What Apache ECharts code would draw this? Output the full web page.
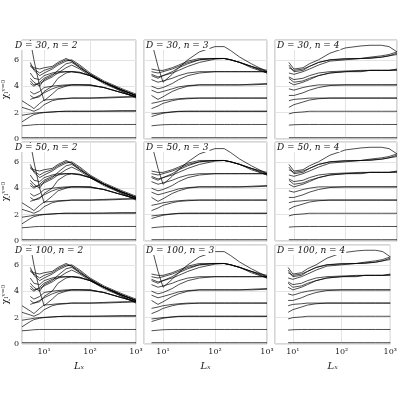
<!DOCTYPE html>
<html><head><meta charset="utf-8">
<script src="https://cdn.jsdelivr.net/npm/echarts@6/dist/echarts.min.js"></script>
<style>html,body{margin:0;background:#fff}#c{width:400px;height:400px}</style>
</head><body><div id="c"></div>
<script>
// panel labels
var dValues = [30, 50, 100]
var nValues = [2, 3, 4]
var xTicks = {10: '10¹', 100: '10²', 1000: '10³'}

// L_x sample positions per n
var xs2 = [3.3, 5, 6, 8, 10, 15, 20, 30, 40, 60, 100, 200, 500, 1000]
var xs3 = [6, 8, 10, 15, 20, 30, 50, 100, 150, 200, 300, 500, 1000]
var xs4 = [8, 10, 15, 20, 30, 50, 100, 200, 300, 500, 700, 1000]

// chi curves, n = 2
var curves2 = [
  [0.1,0.1,0.1,0.1,0.1,0.1,0.1,0.1,0.1,0.1,0.1,0.1,0.1,0.1],
  [1.0,1.05,1.08,1.1,1.1,1.1,1.1,1.1,1.1,1.1,1.1,1.1,1.1,1.1],
  [1.3,1.7,1.85,1.95,2.0,2.05,2.08,2.1,2.1,2.1,2.1,2.12,2.15,2.15],
  [1.8,1.9,1.95,2.0,2.02,2.05,2.08,2.1,2.1,2.1,2.1,2.1,2.1,2.1],
  [2.9,2.5,2.3,2.7,2.95,3.0,3.05,3.08,3.1,3.1,3.1,3.15,3.2,3.2],
  [2.4,2.2,2.1,2.3,2.6,2.9,3.0,3.05,3.1,3.1,3.1,3.1,3.15,3.2],
  [null,3.0,3.1,3.3,3.5,3.8,3.95,4.05,4.1,4.1,4.1,3.9,3.5,3.2],
  [null,3.6,3.4,3.6,3.9,4.0,4.05,4.1,4.1,4.1,4.05,3.9,3.5,3.2],
  [null,7.5,6.0,4.0,2.9,3.4,3.8,4.0,4.1,4.1,4.1,3.9,3.5,3.2],
  [null,3.3,3.1,3.2,3.6,4.0,4.6,5.0,5.1,5.05,4.8,4.3,3.7,3.3],
  [null,4.2,4.0,4.3,4.6,4.9,5.0,5.1,5.1,5.05,4.8,4.3,3.7,3.3],
  [null,5.0,4.6,4.5,4.8,5.0,5.1,5.1,5.1,5.0,4.8,4.3,3.7,3.3],
  [null,4.6,4.3,4.0,4.5,4.8,5.2,5.7,5.8,5.4,4.9,4.3,3.6,3.2],
  [null,5.8,5.2,4.8,5.0,5.3,5.6,5.9,6.0,5.6,5.0,4.4,3.8,3.4],
  [null,5.5,5.3,5.0,5.2,5.4,5.7,6.0,5.9,5.5,4.9,4.3,3.7,3.3],
  [null,5.6,5.4,5.3,5.4,5.5,5.8,6.1,5.9,5.4,4.9,4.3,3.7,3.3],
  [null,4.4,4.1,4.2,4.4,4.7,5.0,5.4,5.6,5.3,4.8,4.2,3.6,3.1]
]

// chi curves, n = 3
var curves3 = [
  [0.1,0.1,0.1,0.1,0.1,0.1,0.1,0.1,0.1,0.1,0.1,0.1,0.1],
  [1.0,1.05,1.08,1.1,1.1,1.1,1.1,1.1,1.1,1.1,1.1,1.1,1.1],
  [1.7,1.85,1.95,2.05,2.08,2.1,2.1,2.1,2.1,2.1,2.1,2.1,2.1],
  [1.9,1.95,2.0,2.05,2.1,2.1,2.1,2.1,2.1,2.1,2.1,2.1,2.1],
  [2.3,2.5,2.7,2.9,3.0,3.05,3.1,3.1,3.1,3.1,3.1,3.1,3.1],
  [2.7,2.8,2.9,3.0,3.05,3.1,3.1,3.1,3.1,3.1,3.1,3.1,3.1],
  [3.3,3.0,3.2,3.6,3.8,4.0,4.1,4.1,4.1,4.1,4.1,4.15,4.2],
  [3.7,3.5,3.6,3.8,3.95,4.05,4.1,4.1,4.1,4.1,4.1,4.1,4.15],
  [4.0,3.8,3.9,4.2,4.5,4.8,5.0,5.1,5.1,5.1,5.1,5.1,5.1],
  [4.5,4.3,4.4,4.6,4.8,5.0,5.1,5.1,5.1,5.1,5.1,5.1,5.1],
  [4.8,4.6,4.8,5.1,5.4,5.7,6.0,6.1,6.1,6.0,5.8,5.5,5.1],
  [5.1,5.0,5.1,5.3,5.5,5.8,6.0,6.1,6.1,6.0,5.8,5.5,5.2],
  [5.3,5.2,5.2,5.4,5.6,5.9,6.1,6.1,6.1,6.0,5.8,5.5,5.0],
  [4.9,4.7,4.8,5.0,5.2,5.5,5.8,6.05,6.1,6.0,5.8,5.4,5.0],
  [7.4,5.5,4.3,4.9,5.4,6.0,6.6,7.0,7.0,6.7,6.2,5.7,5.1]
]

// chi curves, n = 4
var curves4 = [
  [0.1,0.1,0.1,0.1,0.1,0.1,0.1,0.1,0.1,0.1,0.1,0.1],
  [1.05,1.08,1.1,1.1,1.1,1.1,1.1,1.1,1.1,1.1,1.1,1.1],
  [1.9,2.0,2.05,2.1,2.1,2.1,2.1,2.1,2.1,2.1,2.1,2.1],
  [2.4,2.6,2.8,2.95,3.05,3.1,3.1,3.1,3.1,3.1,3.1,3.1],
  [2.9,3.0,3.05,3.1,3.1,3.1,3.1,3.1,3.1,3.1,3.1,3.1],
  [3.3,3.3,3.5,3.7,3.9,4.05,4.1,4.1,4.1,4.1,4.1,4.1],
  [3.8,3.7,3.9,4.0,4.1,4.1,4.1,4.1,4.1,4.1,4.1,4.1],
  [4.3,4.1,4.3,4.5,4.8,5.0,5.1,5.15,5.2,5.2,5.2,5.25],
  [4.7,4.5,4.6,4.8,5.0,5.1,5.15,5.2,5.2,5.2,5.2,5.2],
  [4.6,4.3,4.4,4.6,4.8,5.0,5.1,5.1,5.2,5.2,5.2,5.3],
  [5.0,4.9,5.1,5.3,5.6,5.9,6.0,6.1,6.15,6.2,6.3,6.4],
  [5.4,5.2,5.3,5.5,5.8,6.0,6.1,6.1,6.2,6.3,6.4,6.6],
  [5.6,5.1,5.2,5.5,5.8,6.0,6.05,6.1,6.1,6.2,6.3,6.5],
  [5.8,5.3,5.4,5.7,6.0,6.5,6.9,7.05,7.1,7.1,7.0,6.6]
]

var xsByCol = [xs2, xs3, xs4]
var curvesByCol = [curves2, curves3, curves4]
var xMins = [3.3, 4.3, 4.3]

var lefts = [13, 144, 275]
var widths = [123, 123, 122]
var tops = [40, 142, 245]
var height = 99
var serif = 'DejaVu Serif'

var grids = [], xAxes = [], yAxes = [], series = [], graphics = []
for (var r = 0; r < 3; r++) {
  for (var c = 0; c < 3; c++) {
    var i = r * 3 + c
    grids.push({left: lefts[c], top: tops[r], width: widths[c], height: height, show: true, borderColor: '#999', borderWidth: 0.8})
    xAxes.push({
      type: 'log', logBase: 10, gridIndex: i, min: xMins[c], max: 1000,
      axisLine: {show: false}, axisTick: {show: false},
      splitLine: {show: true, lineStyle: {color: '#e4e4e4'}},
      minorTick: {show: false},
      axisLabel: {show: r == 2, showMinLabel: false, fontFamily: serif, fontSize: 8, color: '#222', margin: 4,
        formatter: function (v) { return xTicks[Math.round(v)] || '' }},
      name: r == 2 ? 'Lₓ' : '', nameLocation: 'middle', nameGap: 17,
      nameTextStyle: {fontFamily: serif, fontStyle: 'italic', fontSize: 10, color: '#222'}
    })
    yAxes.push({
      type: 'value', gridIndex: i, min: 0, max: 7.5, interval: 2,
      axisLine: {show: false}, axisTick: {show: false},
      splitLine: {show: true, lineStyle: {color: '#e4e4e4'}},
      axisLabel: {show: c == 0, fontFamily: serif, fontSize: 8, color: '#222', margin: 3, showMaxLabel: false},
      name: c == 0 ? 'χₗᵛ⁼⁰' : '', nameLocation: 'middle', nameGap: 5, nameRotate: 90,
      nameTextStyle: {fontFamily: serif, fontSize: 9, color: '#222'}
    })
    var xs = xsByCol[c]
    curvesByCol[c].forEach(function (ys) {
      series.push({
        type: 'line', xAxisIndex: i, yAxisIndex: i, showSymbol: false, silent: true,
        data: xs.map(function (x, k) { return [x, ys[k]] }),
        lineStyle: {color: '#000', width: 0.7}
      })
    })
    graphics.push({
      type: 'text', left: lefts[c] + 1, top: tops[r] + 1, z: 100,
      style: {text: 'D = ' + dValues[r] + ', n = ' + nValues[c], font: 'italic 9px "DejaVu Serif"', fill: '#111',
        backgroundColor: '#fff', padding: [0, 1]}
    })
  }
}

var chart = echarts.init(document.getElementById('c'))
chart.setOption({
  animation: false,
  grid: grids, xAxis: xAxes, yAxis: yAxes, series: series, graphic: graphics
})
</script></body></html>
